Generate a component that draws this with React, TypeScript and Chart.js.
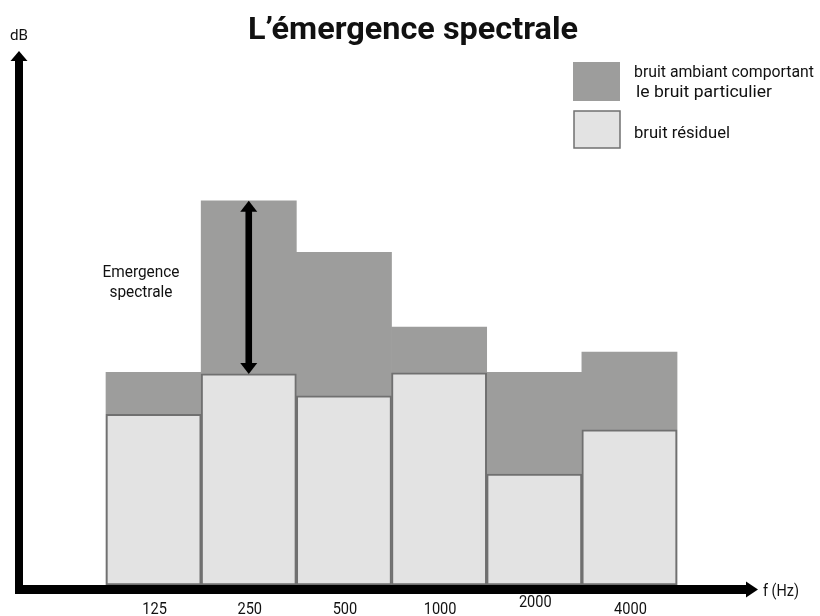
import React, { useEffect, useRef } from "react";
import { Chart, registerables } from "chart.js";

Chart.register(...registerables);

const categories = ["125", "250", "500", "1000", "2000", "4000"];
const ambientValues = [39.9, 72.1, 62.4, 48.4, 39.9, 43.7];
const residualValues = [32.0, 39.6, 35.5, 39.8, 20.8, 29.1];
const ambientLegend = ["bruit ambiant comportant", "le bruit particulier"];
const residualLegend = "bruit résiduel";
const titleText = "L’émergence spectrale";
const yAxisLabel = "dB";
const xAxisLabel = "f (Hz)";
const annotationLines = ["Emergence", "spectrale"];
const emergenceIndex = 1;

const AMBIENT_COLOR = "#9d9d9c";
const RESIDUAL_COLOR = "#e3e3e3";
const RESIDUAL_BORDER = "#707070";
const TEXT_FONT = "Roboto, 'Open Sans', sans-serif";

function drawFit(
  ctx: CanvasRenderingContext2D,
  text: string,
  x: number,
  y: number,
  size: number,
  weight: string,
  targetWidth: number,
  align: "left" | "center"
) {
  ctx.save();
  ctx.font = `${weight} ${size}px ${TEXT_FONT}`;
  const w = ctx.measureText(text).width;
  const sx = targetWidth > 0 ? targetWidth / w : 1;
  ctx.translate(x, y);
  ctx.scale(sx, 1);
  ctx.textAlign = align;
  ctx.textBaseline = "alphabetic";
  ctx.fillText(text, 0, 0);
  ctx.restore();
}

const decorPlugin = {
  id: "decor",
  afterDatasetsDraw(chart: any) {
    const ctx: CanvasRenderingContext2D = chart.ctx;
    const xs = chart.scales.x;
    const ys = chart.scales.y;
    const area = chart.chartArea;
    ctx.save();
    ctx.fillStyle = "#000";

    // emergence double arrow
    const ax = xs.getPixelForValue(emergenceIndex + 1);
    const yTop = ys.getPixelForValue(ambientValues[emergenceIndex]);
    const yBot = ys.getPixelForValue(residualValues[emergenceIndex]);
    ctx.fillRect(ax - 3.3, yTop + 8, 6.6, yBot - yTop - 16);
    ctx.beginPath();
    ctx.moveTo(ax, yTop);
    ctx.lineTo(ax + 8.5, yTop + 11);
    ctx.lineTo(ax - 8.5, yTop + 11);
    ctx.closePath();
    ctx.fill();
    ctx.beginPath();
    ctx.moveTo(ax, yBot);
    ctx.lineTo(ax + 8.5, yBot - 11);
    ctx.lineTo(ax - 8.5, yBot - 11);
    ctx.closePath();
    ctx.fill();

    // axes
    const axisY = area.bottom;
    const axisX = area.left;
    // y axis
    ctx.fillRect(axisX - 4, area.top + 8, 8, axisY + 9 - (area.top + 8));
    ctx.beginPath();
    ctx.moveTo(axisX, area.top - 1);
    ctx.lineTo(axisX + 8.5, area.top + 9);
    ctx.lineTo(axisX - 8.5, area.top + 9);
    ctx.closePath();
    ctx.fill();
    // x axis
    ctx.fillRect(axisX - 4, axisY, area.right + 2 - (axisX - 4), 9);
    ctx.beginPath();
    ctx.moveTo(area.right + 13, axisY + 4.5);
    ctx.lineTo(area.right + 1, axisY - 3.5);
    ctx.lineTo(area.right + 1, axisY + 12.5);
    ctx.closePath();
    ctx.fill();

    // texts
    ctx.fillStyle = "#111";
    drawFit(ctx, titleText, chart.width / 2 + 3, 39, 32, "bold", 330, "center");
    drawFit(ctx, yAxisLabel, 10, 40, 15, "normal", 18, "left");
    drawFit(ctx, xAxisLabel, area.right + 18, 596, 16, "normal", 36, "left");

    categories.forEach((c, i) => {
      const px = xs.getPixelForValue(i + 1);
      const by = c === "2000" ? 607 : 614;
      drawFit(ctx, c, px + 1, by, 17, "normal", c.length * 8.2, "center");
    });

    drawFit(ctx, annotationLines[0], 141, 277, 16, "normal", 77, "center");
    drawFit(ctx, annotationLines[1], 141, 297, 16, "normal", 63, "center");

    // legend
    ctx.fillStyle = AMBIENT_COLOR;
    ctx.fillRect(573, 62, 47, 39);
    ctx.fillStyle = RESIDUAL_COLOR;
    ctx.fillRect(574, 111, 46, 37);
    ctx.strokeStyle = RESIDUAL_BORDER;
    ctx.lineWidth = 1.5;
    ctx.strokeRect(574, 111, 46, 37);
    ctx.fillStyle = "#111";
    drawFit(ctx, ambientLegend[0], 634, 77, 16, "normal", 180, "left");
    drawFit(ctx, ambientLegend[1], 636, 97, 16, "normal", 136, "left");
    drawFit(ctx, residualLegend, 634, 138, 16, "normal", 96, "left");

    ctx.restore();
  },
};

export default function App() {
  const canvasRef = useRef<HTMLCanvasElement | null>(null);

  useEffect(() => {
    if (!canvasRef.current) return;
    const chart = new Chart(canvasRef.current, {
      type: "bar",
      data: {
        datasets: [
          {
            label: residualLegend,
            data: categories.map((_, i) => ({ x: i + 1, y: residualValues[i] })),
            backgroundColor: RESIDUAL_COLOR,
            borderColor: RESIDUAL_BORDER,
            borderWidth: 2,
            borderSkipped: false,
            barPercentage: 1,
            categoryPercentage: 1,
            grouped: false,
          } as any,
          {
            label: ambientLegend.join(" "),
            data: categories.map((_, i) => ({ x: i + 1, y: ambientValues[i] })),
            backgroundColor: AMBIENT_COLOR,
            borderWidth: 0,
            barPercentage: 1,
            categoryPercentage: 1,
            grouped: false,
          } as any,
        ],
      },
      options: {
        animation: false,
        responsive: false,
        layout: { padding: { left: 19, right: 75, top: 52, bottom: 31 } },
        scales: {
          x: { type: "linear", min: -0.414, max: 7.214, offset: false, display: false },
          y: { min: 0, max: 100, display: false },
        },
        plugins: {
          legend: { display: false },
          tooltip: { enabled: false },
          title: { display: false },
        },
      },
      plugins: [decorPlugin],
    });
    return () => chart.destroy();
  }, []);

  return (
    <div style={{ position: "fixed", left: 0, top: 0, width: 820, height: 616, background: "#fff" }}>
      <canvas ref={canvasRef} width={820} height={616} />
    </div>
  );
}
